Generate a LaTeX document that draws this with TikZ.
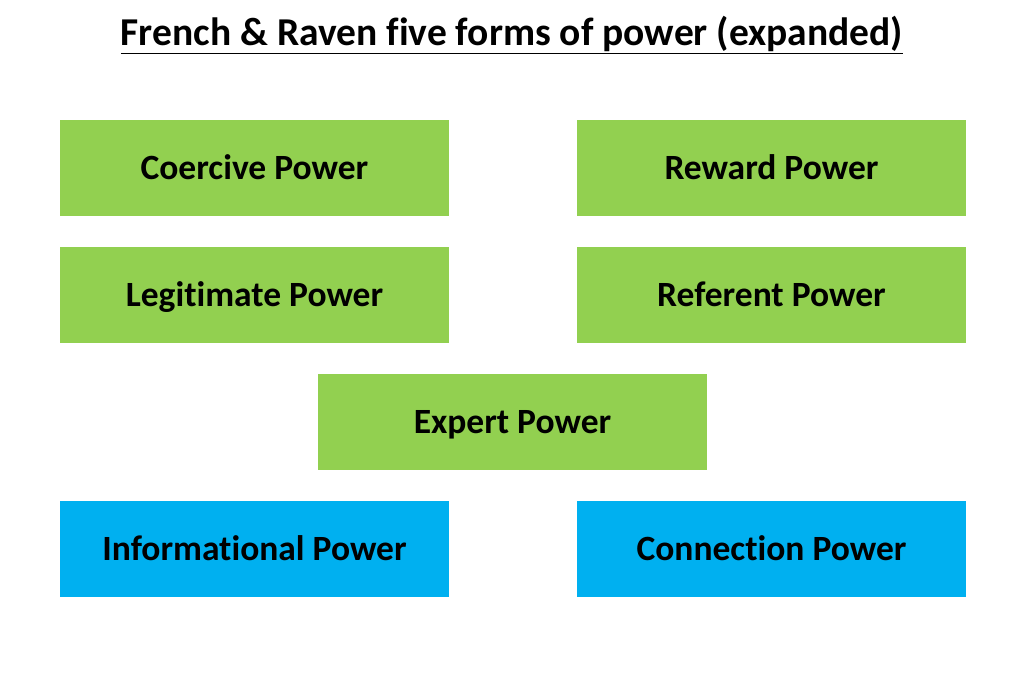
\documentclass[tikz,border=0pt]{standalone}
\usepackage{fontspec}
\setmainfont[Ligatures=NoCommon]{Carlito}
\usepackage{xcolor}
\usetikzlibrary{shapes,calc}
\definecolor{powergreen}{HTML}{92D050}
\definecolor{powerblue}{HTML}{00B0F0}

\begin{document}
\begin{tikzpicture}[
    x=1pt, y=-1pt,
    node distance=127pt,
    block/.style={
      rectangle,
      fill=powergreen,
      minimum width=389pt,
      minimum height=96pt,
      text height=23pt,
      text depth=0pt,
      text centered,
      font=\fontsize{35.5}{42}\selectfont\bfseries
    },
    extra/.style={block, fill=powerblue},
]
    \useasboundingbox (0,0) rectangle (1024,674);
    \node [font=\fontsize{39.5}{46}\selectfont\bfseries] (title) at (512,35) {\underline{French \& Raven five forms of power (expanded)}};

    \node [block] (coercive) at (254.5,168) {Coercive Power};
    \node [block, right of=coercive, node distance=517pt] (reward) {Reward Power};
    \node [block, below of=coercive] (legitimate) {Legitimate Power};
    \node [block, below of=reward] (referent) {Referent Power};
    \node [block] (expert) at (512.5,422) {Expert Power};

    \node [extra] (informational) at (254.5,549) {Informational Power};
    \node [extra, right of=informational, node distance=517pt] (connection) {Connection Power};
\end{tikzpicture}
\end{document}
